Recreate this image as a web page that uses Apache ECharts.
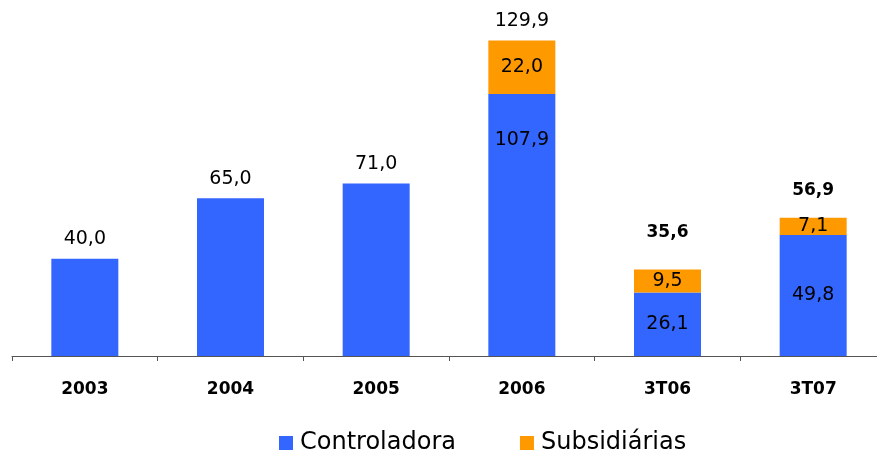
<!DOCTYPE html>
<html>
<head>
<meta charset="utf-8">
<script src="https://cdn.jsdelivr.net/npm/echarts@6/dist/echarts.min.js"></script>
<style>html,body{margin:0;padding:0;background:#fff}#c{width:877px;height:456px}</style>
</head>
<body>
<div id="c"></div>
<script>
const categories = ['2003', '2004', '2005', '2006', '3T06', '3T07'];
const controladora = [40.0, 65.0, 71.0, 107.9, 26.1, 49.8];
const subsidiarias = [null, null, null, 22.0, 9.5, 7.1];
const totals = [40.0, 65.0, 71.0, 129.9, 35.6, 56.9];
const seriesNames = ['Controladora', 'Subsidiárias'];

const fmt = v => v.toFixed(1).replace('.', ',');
const FONT = 'DejaVu Sans';

const chart = echarts.init(document.getElementById('c'), null, {renderer: 'canvas'});

const ctrlData = controladora.map((v, i) => {
  const item = {value: v};
  if (subsidiarias[i] == null) {
    item.label = {show: false};
  } else if (i === 3) {
    item.label = {show: true, position: 'insideTop', distance: 37};
  } else {
    item.label = {show: true, position: 'inside'};
  }
  return item;
});

const subData = subsidiarias.map(v => (v == null ? {value: null} : {value: v}));

const totalData = totals.map((v, i) => {
  const item = {value: [i, v]};
  if (i === 4) item.label = {fontWeight: 'bold', fontSize: 17, distance: 28};
  if (i === 5) item.label = {fontWeight: 'bold', fontSize: 17, distance: 19};
  return item;
});

chart.setOption({
  animation: false,
  backgroundColor: '#ffffff',
  textStyle: {fontFamily: FONT, color: '#000'},
  grid: {left: 12, width: 874, top: 16, bottom: 100, containLabel: false, outerBoundsMode: 'none'},
  legend: {
    data: seriesNames,
    left: 279,
    top: 431,
    padding: 0,
    itemWidth: 14,
    itemHeight: 14,
    itemGap: 64,
    icon: 'rect',
    textStyle: {fontFamily: FONT, fontSize: 24, color: '#000', padding: [0, 0, 0, 2]}
  },
  xAxis: {
    type: 'category',
    data: categories,
    boundaryGap: true,
    axisLine: {lineStyle: {color: '#555', width: 1}},
    axisTick: {show: true, length: 5, lineStyle: {color: '#555'}},
    axisLabel: {fontFamily: FONT, fontSize: 17, fontWeight: 'bold', color: '#000', margin: 25}
  },
  yAxis: {
    type: 'value',
    min: 0,
    max: 140,
    show: false,
    splitLine: {show: false}
  },
  series: [
    {
      name: seriesNames[0],
      type: 'bar',
      stack: 'total',
      barWidth: 67,
      itemStyle: {color: '#3366FF'},
      label: {fontFamily: FONT, fontSize: 19, color: '#000', formatter: p => fmt(p.value)},
      data: ctrlData
    },
    {
      name: seriesNames[1],
      type: 'bar',
      stack: 'total',
      barWidth: 67,
      itemStyle: {color: '#FF9900'},
      label: {show: true, position: 'inside', fontFamily: FONT, fontSize: 19, color: '#000',
              formatter: p => (p.value == null ? '' : fmt(p.value))},
      data: subData
    },
    {
      name: 'Total',
      type: 'scatter',
      symbolSize: 0,
      silent: true,
      itemStyle: {opacity: 1},
      label: {show: true, position: 'top', distance: 10, fontFamily: FONT, fontSize: 19, color: '#000',
              opacity: 1, formatter: p => fmt(p.value[1])},
      data: totalData
    }
  ]
});
</script>
</body>
</html>
